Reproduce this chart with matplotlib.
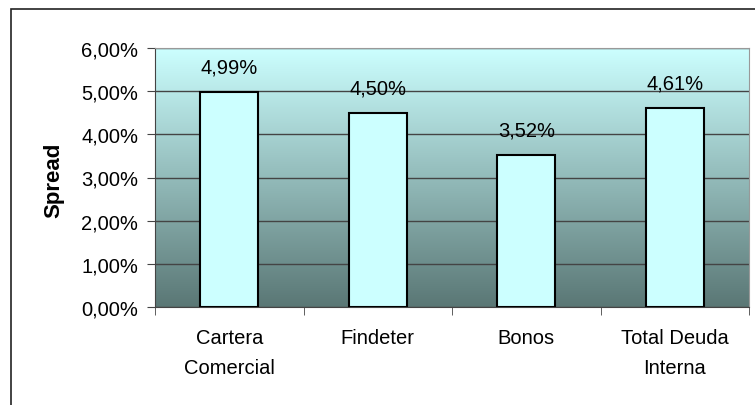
import matplotlib.pyplot as plt
import matplotlib.patches as mpatches
import numpy as np
from matplotlib.colors import LinearSegmentedColormap

plt.rcParams['font.family'] = ['Liberation Sans', 'DejaVu Sans']

# data
categories = ['Cartera\nComercial', 'Findeter', 'Bonos', 'Total Deuda\nInterna']
spread = [4.99, 4.50, 3.52, 4.61]
labels = ['4,99%', '4,50%', '3,52%', '4,61%']
yticks = [0, 1, 2, 3, 4, 5, 6]
ytick_labels = ['0,00%', '1,00%', '2,00%', '3,00%', '4,00%', '5,00%', '6,00%']

fig = plt.figure(figsize=(7.55, 4.06), dpi=100)

# outer frame (clipped at right / bottom like the original)
frame = mpatches.Rectangle((11 / 755, -0.05), 1.0, 1 - 10 / 406 + 0.05,
                           transform=fig.transFigure, fill=False,
                           edgecolor='#222222', linewidth=1.2)
fig.patches.append(frame)

ax = fig.add_axes([155 / 755, 1 - 308 / 406, (749 - 155) / 755, (308 - 49) / 406])

# gradient background
cmap = LinearSegmentedColormap.from_list('bg', ['#5a7775', '#ccffff'])
grad = np.linspace(0, 1, 256).reshape(-1, 1)
ax.imshow(grad, cmap=cmap, aspect='auto', origin='lower',
          extent=[0, 1, 0, 1], transform=ax.transAxes, zorder=0)

x = np.arange(len(categories))
ax.bar(x, spread, width=0.39, color='#ccffff', edgecolor='black',
       linewidth=1.5, zorder=3)

for xi, v, lab in zip(x, spread, labels):
    ax.text(xi, v + 0.57, lab, ha='center', va='center', fontsize=14.5, zorder=4)

ax.set_xlim(-0.5, len(categories) - 0.5)
ax.set_ylim(0, 6)
ax.set_yticks(yticks)
ax.set_yticklabels(ytick_labels, fontsize=14.5)
ax.yaxis.grid(True, color='#444444', linewidth=1)
ax.set_axisbelow(True)

ax.set_xticks(x)
ax.set_xticklabels(categories, fontsize=14.5, linespacing=1.75)
ax.tick_params(axis='x', length=0, pad=15)
ax.set_xticks(np.arange(-0.5, len(categories)), minor=True)
ax.tick_params(axis='x', which='minor', length=6, color='#444444')
ax.tick_params(axis='y', length=6, color='#444444', pad=6)

for s in ['top', 'right']:
    ax.spines[s].set_color('#999999')
for s in ['left', 'bottom']:
    ax.spines[s].set_color('#444444')

ax.set_ylabel('Spread', fontsize=16, fontweight='bold')
ax.yaxis.set_label_coords(54 / 755, 1 - 180 / 406, transform=fig.transFigure)
ax.yaxis.label.set_verticalalignment('center')

fig.savefig('out.png', dpi=100)
